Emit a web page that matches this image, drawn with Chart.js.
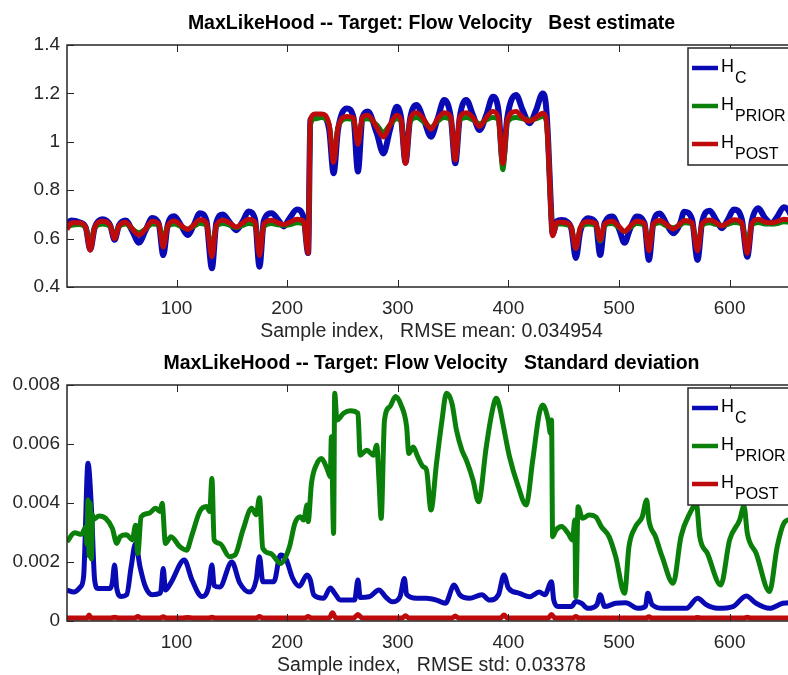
<!DOCTYPE html>
<html>
<head>
<meta charset="utf-8">
<script src="https://cdn.jsdelivr.net/npm/chart.js@4.4.1/dist/chart.umd.min.js"></script>
<style>
  html, body { margin: 0; padding: 0; background: #fff; overflow: hidden; width: 788px; height: 675px; }
  canvas { position: absolute; left: 0; }
  #estChart { top: 0; }
  #sdChart { top: 340px; }
</style>
</head>
<body>
<canvas id="estChart" width="800" height="350"></canvas>
<canvas id="sdChart" width="800" height="337"></canvas>
<script>
// axis ticks
const sampleTicks = [100, 200, 300, 400, 500, 600];
const estTicks = [0.4, 0.6, 0.8, 1, 1.2, 1.4];
const sdTicks = [0, 0.002, 0.004, 0.006, 0.008];
const legendSubs = ['C', 'PRIOR', 'POST'];

// best estimate: shared sample positions for the three filters
const estSamples = [1,5,12,18,22,26,33,40,44,48,54,60,66,72,78,84,88,92,98,104,110,116,121,127,132,136,142,148,154,160,165,171,175,179,186,192,197,202,209,215,219,
  221,225,231,238,242,246,254,260,264,268,273,281,287,293,299,303,307,311,317,324,330,336,342,348,352,356,362,368,374,380,386,391,395,399,407,413,419,425,431,434,436,438,440,444,
  448,453,457,461,465,472,479,483,487,494,500,505,510,516,523,527,531,537,543,549,555,559,566,571,575,582,588,593,598,604,611,616,620,626,632,638,643,649,655,660];

const hcEst = [
  .665,.675,.668,.645,.555,.645,.680,.655,.595,.655,
  .675,.632,.583,.634,.685,.660,.532,.655,.692,.655,
  .615,.660,.705,.675,.477,.665,.700,.668,.635,.672,
  .712,.680,.484,.675,.705,.677,.650,.683,.720,.685,
  .540,
  1.09,1.105,1.11,1.05,.870,1.05,1.138,1.10,.877,1.10,
  1.125,1.035,.952,1.05,1.145,1.10,.915,1.09,1.152,1.085,
  1.021,1.095,1.173,1.10,.911,1.10,1.173,1.11,1.049,1.11,
  1.186,1.13,.915,1.10,1.193,1.13,1.077,1.13,1.20,1.15,
  1.0,.78,.62,.672,
  .677,.67,.64,.52,.63,.684,.665,.532,.665,.691,
  .64,.583,.64,.691,.665,.512,.665,.704,.66,.622,
  .66,.711,.68,.512,.665,.715,.675,.643,.675,.72,
  .68,.525,.67,.725,.685,.663,.69,.73,.70,.62];

const hPriorEst = [
  .648,.655,.658,.645,.575,.645,.660,.650,.615,.650,
  .660,.640,.625,.640,.660,.655,.600,.650,.660,.650,
  .640,.652,.662,.655,.560,.650,.662,.655,.645,.655,
  .662,.655,.570,.650,.662,.657,.655,.657,.665,.660,
  .560,
  1.07,1.095,1.10,1.07,.93,1.06,1.095,1.09,1.0,1.09,
  1.095,1.07,1.04,1.07,1.095,1.085,.93,1.08,1.10,1.08,
  1.06,1.085,1.10,1.09,.93,1.09,1.10,1.09,1.075,1.09,
  1.10,1.09,.885,1.08,1.10,1.095,1.09,1.095,1.105,1.09,
  .98,.76,.625,.66,
  .66,.657,.645,.56,.645,.66,.655,.59,.655,.662,
  .645,.63,.645,.662,.655,.56,.655,.665,.652,.645,
  .655,.665,.66,.56,.655,.665,.658,.655,.658,.667,
  .66,.575,.655,.667,.66,.66,.662,.67,.665,.63];

const hPostEst = [
  .638,.665,.665,.645,.552,.645,.672,.655,.600,.652,
  .668,.640,.615,.640,.672,.660,.565,.650,.673,.655,
  .638,.658,.678,.665,.525,.655,.676,.665,.648,.665,
  .680,.668,.530,.660,.676,.665,.658,.667,.680,.670,
  .540,
  1.09,1.115,1.115,1.07,.915,1.06,1.105,1.10,.99,1.10,
  1.11,1.06,1.02,1.07,1.11,1.09,.91,1.09,1.12,1.09,
  1.052,1.095,1.12,1.10,.925,1.10,1.12,1.10,1.063,1.10,
  1.125,1.10,.91,1.09,1.125,1.10,1.085,1.10,1.118,1.10,
  .98,.76,.612,.668,
  .668,.665,.645,.56,.645,.67,.662,.594,.66,.672,
  .65,.629,.65,.672,.662,.55,.66,.675,.658,.64,
  .66,.675,.665,.55,.66,.677,.665,.652,.665,.678,
  .665,.539,.66,.68,.668,.665,.67,.68,.675,.61];

// standard deviation, values in units of 1e-3
const sdUnit = 1e-3;
const sdSamplesC = [1,7,13,16,20,23,26,29,40,42,44,46,50,55,59,63,67,72,78,85,86,88,90,95,107,114,123,129,132,134,
  139,150,157,166,172,175,178,188,194,199,205,211,218,221,224,233,239,243,248,261,264,266,274,283,289,295,302,306,308,317,
  326,335,343,351,356,365,376,383,391,396,400,410,419,428,433,439,441,445,457,461,466,472,480,483,487,497,506,517,524,526,
  530,540,561,571,579,589,603,615,624,636,648,655,660];
const hcSd = [1.05,0.98,1.15,1.5,5.35,3.9,1.39,1.1,1.1,1.3,1.9,1.1,0.83,0.89,1.84,2.63,1.84,1.15,0.89,0.94,
  1.05,1.78,1.05,1.3,2.07,1.39,0.83,1.15,1.9,1.2,1.15,2.0,1.3,0.98,1.39,2.18,1.33,1.33,2.24,2.1,
  1.45,1.18,1.56,1.39,0.89,0.77,1.12,0.94,0.71,0.71,1.39,0.8,0.82,1.05,0.82,0.65,0.82,1.44,0.9,0.77,
  0.77,0.71,0.6,1.22,0.89,0.77,0.89,0.71,0.89,1.56,1.12,0.94,0.82,0.98,0.89,1.33,0.71,0.49,0.49,0.66,
  0.6,0.43,0.55,0.89,0.49,0.6,0.62,0.43,0.5,0.94,0.55,0.43,0.43,0.77,0.55,0.43,0.49,0.85,0.6,0.43,
  0.6,0.62,0.6];

const sdSamplesPrior = [1,8,14,18,19,20,21,22,23,24,25,30,36,42,46,49,55,60,63,65,68,75,81,85,87,90,95,103,109,114,
  121,127,130,132,134,139,148,153,160,168,172,175,178,185,194,202,207,212,215,218,219,222,227,231,236,239,240,242,243,245,
  251,257,264,266,272,278,281,283,285,288,293,298,303,308,310,314,318,323,326,330,335,340,344,349,353,358,362,368,373,380,
  385,389,392,395,401,409,416,422,428,431,436,438,439,440,443,448,454,458,460,461,463,467,473,479,484,491,497,505,509,515,
  521,525,527,533,539,549,556,564,570,573,580,592,600,609,613,616,624,636,643,649,655,660];
const hPriorSd = [2.69,2.99,2.94,3.19,2.6,4.1,2.2,4.0,2.1,3.6,3.45,3.56,3.48,3.14,2.63,2.86,2.92,2.75,3.25,2.29,
  3.53,3.65,3.82,3.71,3.99,2.63,2.86,2.52,2.4,2.92,3.71,3.88,3.71,4.83,2.75,2.63,2.18,2.24,3.08,3.82,
  3.6,4.18,2.46,2.29,1.95,2.5,3.31,3.53,3.42,3.93,3.37,4.67,5.34,5.51,5.17,4.89,6.25,2.97,7.72,6.81,
  7.04,7.13,7.04,5.62,5.79,5.62,5.96,4.78,3.48,6.81,7.27,7.61,7.32,6.59,5.68,5.9,5.57,5.23,5.12,3.76,
  5.34,6.81,7.72,7.38,6.48,5.79,5.45,4.78,4.04,5.9,7.04,7.55,7.27,6.7,5.57,4.55,3.93,5.45,7.04,7.32,
  6.81,6.36,6.81,2.86,3.08,3.2,2.97,2.75,3.42,0.82,3.87,3.48,3.59,3.53,3.2,2.86,2.18,0.94,2.52,3.2,
  3.53,4.1,3.42,2.86,2.18,1.28,2.86,3.65,3.95,2.86,2.29,1.22,2.75,3.42,3.9,2.97,2.29,1.0,2.52,3.31,
  3.45,3.5];

const sdSamplesPost = [1,19,21,23,40,44,48,62,65,68,85,88,91,105,110,115,129,132,135,150,172,175,178,195,216,219,222,238,241,244,
  260,264,268,285,304,307,310,330,349,352,355,375,393,396,399,420,436,439,442,458,461,464,483,505,524,527,530,549,568,571,
  574,593,613,616,619,638,660];
const hPostSd = [0.1,0.1,0.2,0.1,0.1,0.13,0.1,0.1,0.15,0.1,0.1,0.14,0.1,0.1,0.12,0.1,0.1,0.13,0.1,0.1,
  0.1,0.15,0.1,0.1,0.1,0.15,0.1,0.1,0.28,0.1,0.1,0.22,0.1,0.1,0.1,0.18,0.1,0.1,0.1,0.17,
  0.1,0.1,0.1,0.2,0.1,0.1,0.1,0.22,0.1,0.1,0.15,0.1,0.1,0.1,0.1,0.14,0.1,0.1,0.1,0.12,
  0.1,0.1,0.1,0.13,0.1,0.1,0.1];

const FONT = '"Liberation Sans", Arial, Helvetica, sans-serif';
const INK = '#262626';
const colors = ['#0a0ab4', '#0a800a', '#be0a0a'];

const toPoints = (xs, ys, k = 1) => xs.map((s, i) => ({ x: s, y: ys[i] * k }));

// MATLAB-like box with inward ticks
const axesBox = {
  id: 'axesBox',
  afterDatasetsDraw(chart) {
    const { ctx, chartArea: a, scales: { x, y } } = chart;
    ctx.save();
    ctx.strokeStyle = INK;
    ctx.lineWidth = 1.5;
    ctx.strokeRect(a.left, a.top, a.width, a.height);
    ctx.beginPath();
    x.ticks.forEach(t => {
      const px = Math.round(x.getPixelForValue(t.value)) + 0.5;
      ctx.moveTo(px, a.bottom); ctx.lineTo(px, a.bottom - 7);
      ctx.moveTo(px, a.top); ctx.lineTo(px, a.top + 7);
    });
    y.ticks.forEach(t => {
      const py = Math.round(y.getPixelForValue(t.value)) + 0.5;
      ctx.moveTo(a.left, py); ctx.lineTo(a.left + 7, py);
      ctx.moveTo(a.right, py); ctx.lineTo(a.right - 7, py);
    });
    ctx.lineWidth = 1;
    ctx.stroke();
    ctx.restore();
  }
};

// legend with subscripted names, top right inside the axes
const subLegend = {
  id: 'subLegend',
  afterDraw(chart) {
    const { ctx, chartArea: a } = chart;
    const left = a.right - 108, top = a.top + 3, w = 112, h = 117;
    ctx.save();
    ctx.fillStyle = '#fff';
    ctx.fillRect(left, top, w, h);
    ctx.strokeStyle = INK;
    ctx.lineWidth = 1.5;
    ctx.strokeRect(left, top, w, h);
    chart.data.datasets.forEach((ds, i) => {
      const y = top + 20 + i * 38;
      ctx.strokeStyle = ds.borderColor;
      ctx.lineWidth = 4.5;
      ctx.beginPath();
      ctx.moveTo(left + 4, y);
      ctx.lineTo(left + 30, y);
      ctx.stroke();
      ctx.fillStyle = '#000';
      ctx.textBaseline = 'alphabetic';
      ctx.font = '18px ' + FONT;
      ctx.fillText('H', left + 33, y + 4);
      ctx.font = '16px ' + FONT;
      ctx.fillText(legendSubs[i], left + 47, y + 15);
    });
    ctx.restore();
  }
};

// first series at the bottom of the stack, last on top
function lineSet(label, pts, color, width, order) {
  return {
    label, data: pts, borderColor: color, backgroundColor: color,
    borderWidth: width, pointRadius: 0, fill: false, order,
    cubicInterpolationMode: 'monotone', clip: 0
  };
}

function options(yMin, yMax, yTicks, title, xTitle, xHeight, xTitlePad) {
  return {
    responsive: false,
    animation: false,
    devicePixelRatio: 1,
    layout: { padding: { left: 0, right: 4, top: 0, bottom: 0 } },
    plugins: {
      legend: { display: false },
      tooltip: { enabled: false },
      title: {
        display: true, text: title, color: '#000', fullSize: false,
        font: { family: FONT, size: 19.5, weight: 'bold' },
        padding: { top: 11.5, bottom: 10.1 }
      }
    },
    scales: {
      x: {
        type: 'linear', min: 1, max: 660,
        grid: { display: false, drawTicks: false }, border: { display: false },
        afterBuildTicks: s => { s.ticks = sampleTicks.map(v => ({ value: v })); },
        afterFit: s => { s.height = xHeight; },
        ticks: { color: INK, font: { family: FONT, size: 19 }, padding: 10, maxRotation: 0 },
        title: { display: true, text: xTitle, color: INK, font: { family: FONT, size: 19.5 }, padding: { top: 0, bottom: xTitlePad } }
      },
      y: {
        min: yMin, max: yMax,
        grid: { display: false, drawTicks: false }, border: { display: false },
        afterBuildTicks: s => { s.ticks = yTicks.map(v => ({ value: v })); },
        afterFit: s => { s.width = 67; },
        ticks: { color: INK, font: { family: FONT, size: 19 }, padding: 7, callback: v => String(v) }
      }
    }
  };
}

new Chart(document.getElementById('estChart'), {
  type: 'line',
  data: {
    datasets: [
      lineSet('H_C', toPoints(estSamples, hcEst), colors[0], 6, 3),
      lineSet('H_PRIOR', toPoints(estSamples, hPriorEst), colors[1], 5, 2),
      lineSet('H_POST', toPoints(estSamples, hPostEst), colors[2], 5, 1)
    ]
  },
  options: options(0.4, 1.4, estTicks,
    'MaxLikeHood -- Target: Flow Velocity   Best estimate',
    'Sample index,   RMSE mean: 0.034954', 63, 6.3),
  plugins: [axesBox, subLegend]
});

new Chart(document.getElementById('sdChart'), {
  type: 'line',
  data: {
    datasets: [
      lineSet('H_C', toPoints(sdSamplesC, hcSd, sdUnit), colors[0], 5, 3),
      lineSet('H_PRIOR', toPoints(sdSamplesPrior, hPriorSd, sdUnit), colors[1], 5, 2),
      lineSet('H_POST', toPoints(sdSamplesPost, hPostSd, sdUnit), colors[2], 5, 1)
    ]
  },
  options: options(0, 0.008, sdTicks,
    'MaxLikeHood -- Target: Flow Velocity   Standard deviation',
    'Sample index,   RMSE std: 0.03378', 56, 0),
  plugins: [axesBox, subLegend]
});
</script>
</body>
</html>
